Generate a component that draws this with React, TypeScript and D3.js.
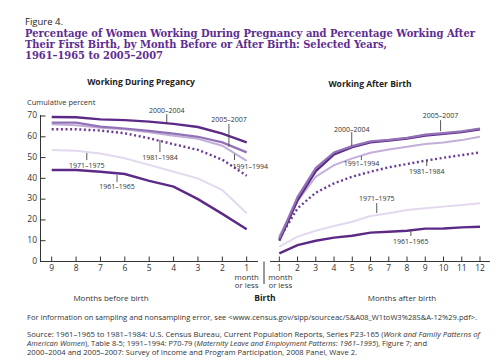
import React from "react";
import * as d3 from "d3";

// months on each panel
const monthsBefore = [9, 8, 7, 6, 5, 4, 3, 2, 1];
const monthsAfter = [1, 2, 3, 4, 5, 6, 7, 8, 9, 10, 11, 12];
const yTicks = [0, 10, 20, 30, 40, 50, 60, 70];

// cumulative percent working, months before birth (9 .. 1)
const before2000 = [69.5, 69.4, 68.4, 68, 67.3, 66.2, 64.7, 61.5, 57.3];
const before2005 = [66.8, 66.8, 64.9, 64, 62.8, 61.5, 60, 57.3, 52.5];
const before1991 = [66, 65.5, 64.4, 63.6, 62.2, 60.5, 59, 55.7, 48.4];
const before1981 = [63.6, 63.6, 63, 61.7, 59.3, 56.4, 53.7, 49, 41.3];
const before1971 = [53.7, 53.3, 52, 49.7, 46.5, 43.2, 40, 34.4, 23.2];
const before1961 = [44, 44, 43.2, 42.1, 38.8, 36, 30, 22.9, 15.5];

// cumulative percent working, months after birth (1 .. 12)
const after2005 = [11, 31, 45, 52.5, 55.5, 57.8, 58.5, 59.5, 61, 61.8, 62.6, 64];
const after2000 = [10, 29.5, 43.5, 51.5, 55, 57.3, 58.2, 59.2, 60.6, 61.4, 62.3, 63.6];
const after1991 = [12, 29, 40.8, 46.4, 49.6, 52.3, 53.9, 55.2, 56.5, 57.3, 58.4, 60];
const after1981 = [11, 25.6, 33.1, 37.6, 40.8, 43.2, 45.3, 46.9, 48.5, 49.9, 51.2, 52.5];
const after1971 = [7.1, 12, 14.8, 17.1, 19.1, 21.9, 23.2, 24.8, 25.6, 26.4, 27.2, 28];
const after1961 = [3.9, 7.9, 10, 11.5, 12.4, 13.9, 14.3, 14.8, 15.8, 15.9, 16.4, 16.7];

// label callouts: [label, month, text value, leader top, leader bottom, anchor]
type Note = [string, number, number, number, number, string];
const beforeNotes: Note[] = [
  ["2000–2004", 4.28, 72.2, 70.9, 66.1, "middle"],
  ["2005–2007", 1.73, 67.8, 66.1, 55.2, "middle"],
  ["1981–1984", 4.56, 49.6, 58.4, 52.6, "middle"],
  ["1991–1994", 1.5, 45.4, 51.7, 48.8, "start"],
  ["1971–1975", 7.56, 45.8, 52.2, 48.8, "middle"],
  ["1961–1965", 6.32, 35.7, 41.6, 38.2, "middle"],
];
const afterNotes: Note[] = [
  ["2000–2004", 4.97, 63.4, 62.3, 55.5, "middle"],
  ["2005–2007", 9.84, 69.8, 68, 62.7, "middle"],
  ["1991–1994", 5.5, 46.8, 50.7, 48.8, "middle"],
  ["1981–1984", 9.08, 42.9, 48.8, 45.9, "middle"],
  ["1971–1975", 6.34, 29.8, 28.1, 23.3, "middle"],
  ["1961–1965", 8.21, 9.3, 15.1, 12.3, "middle"],
];

const DARK = "#5c2a86";
const SANS = "'Open Sans', 'DejaVu Sans', sans-serif";

const styles: Record<string, { color: string; width: number; dash?: string }> = {
  "1971–1975": { color: "#e3d9ee", width: 2 },
  "1991–1994": { color: "#c3aed9", width: 2 },
  "2005–2007": { color: "#9272b6", width: 2.2 },
  "1981–1984": { color: "#6b3a98", width: 2.4, dash: "2,2.6" },
  "1961–1965": { color: DARK, width: 2.4 },
  "2000–2004": { color: DARK, width: 2.4 },
};

const beforeSeries: [string, number[]][] = [
  ["1971–1975", before1971],
  ["1991–1994", before1991],
  ["2005–2007", before2005],
  ["1981–1984", before1981],
  ["1961–1965", before1961],
  ["2000–2004", before2000],
];
const afterSeries: [string, number[]][] = [
  ["1971–1975", after1971],
  ["1991–1994", after1991],
  ["1981–1984", after1981],
  ["1961–1965", after1961],
  ["2000–2004", after2000],
  ["2005–2007", after2005],
];

export default function App() {
  const y = d3.scaleLinear().domain([0, 70]).range([261.5, 116]);
  const xL = d3.scaleLinear().domain([9, 1]).range([51.7, 246.7]);
  const xR = d3.scaleLinear().domain([1, 12]).range([279.3, 480]);

  const lineL = (vals: number[]) =>
    d3.line<number>().x((_, i) => xL(monthsBefore[i])).y((d) => y(d))(vals) || "";
  const lineR = (vals: number[]) =>
    d3.line<number>().x((_, i) => xR(monthsAfter[i])).y((d) => y(d))(vals) || "";

  const axisY = y(0);

  const notes = (list: Note[], x: d3.ScaleLinear<number, number>) =>
    list.map(([label, m, tv, l1, l2, anchor]) => (
      <g key={label}>
        <line x1={x(m)} x2={x(m)} y1={y(l1)} y2={y(l2)} stroke="#444" strokeWidth={0.9} />
        <text x={anchor === "start" ? x(m) - 2 : x(m)} y={y(tv)} textAnchor={anchor}
          fontSize={7} fill="#333" dominantBaseline="middle">
          {label}
        </text>
      </g>
    ));

  return (
    <svg
      width={500}
      height={363}
      style={{ position: "absolute", left: 0, top: 0, background: "#fff" }}
      fontFamily={SANS}
    >
      <text x={25} y={25} fontSize={9.5} fill="#222">Figure 4.</text>
      <g fontFamily="'DejaVu Serif Condensed', 'DejaVu Serif', serif" fontWeight="bold" fontSize={10.5} fill="#5e2d91">
        <text x={25} y={36.5} textLength={450} lengthAdjust="spacingAndGlyphs">
          Percentage of Women Working During Pregnancy and Percentage Working After
        </text>
        <text x={25} y={47.8} textLength={362} lengthAdjust="spacingAndGlyphs">
          Their First Birth, by Month Before or After Birth: Selected Years,
        </text>
        <text x={25} y={59} textLength={138} lengthAdjust="spacingAndGlyphs">
          1961–1965 to 2005–2007
        </text>
      </g>

      <text x={141} y={84.5} textAnchor="middle" fontSize={8.5} fontWeight="bold" fill="#222">
        Working During Pregancy
      </text>
      <text x={370} y={86.5} textAnchor="middle" fontSize={8.5} fontWeight="bold" fill="#222">
        Working After Birth
      </text>
      <text x={27} y={104.5} fontSize={7.5} fill="#333">Cumulative percent</text>

      {/* y axis */}
      <line x1={40.5} x2={40.5} y1={y(70) - 1} y2={axisY} stroke="#333" strokeWidth={1} />
      {yTicks.map((t) => (
        <g key={t}>
          {t > 0 && <line x1={40.5} x2={45.5} y1={y(t)} y2={y(t)} stroke="#333" strokeWidth={1} />}
          <text x={37} y={y(t)} textAnchor="end" dominantBaseline="middle" fontSize={8.5} fill="#333">
            {t}
          </text>
        </g>
      ))}

      {/* x axes */}
      <line x1={40} x2={258} y1={axisY} y2={axisY} stroke="#333" strokeWidth={1} />
      <line x1={270} x2={490} y1={axisY} y2={axisY} stroke="#333" strokeWidth={1} />
      <line x1={264} x2={264} y1={axisY} y2={284} stroke="#333" strokeWidth={1} />
      {monthsBefore.map((m) => (
        <g key={"b" + m}>
          <line x1={xL(m)} x2={xL(m)} y1={axisY} y2={axisY - 5} stroke="#333" strokeWidth={1} />
          <text x={xL(m)} y={270.5} textAnchor="middle" fontSize={8.5} fill="#333">{m}</text>
        </g>
      ))}
      {monthsAfter.map((m) => (
        <g key={"a" + m}>
          <line x1={xR(m)} x2={xR(m)} y1={axisY} y2={axisY - 5} stroke="#333" strokeWidth={1} />
          <text x={xR(m)} y={270.5} textAnchor="middle" fontSize={8.5} fill="#333">{m}</text>
        </g>
      ))}
      <g fontSize={7.8} fill="#333" textAnchor="middle">
        <text x={xL(1)} y={279.5}>month</text>
        <text x={xL(1)} y={288}>or less</text>
        <text x={xR(1) + 1} y={279.5}>month</text>
        <text x={xR(1) + 1} y={288}>or less</text>
      </g>
      <text x={111} y={301} textAnchor="middle" fontSize={8} fill="#333">Months before birth</text>
      <text x={265} y={301} textAnchor="middle" fontSize={8.5} fontWeight="bold" fill="#222">Birth</text>
      <text x={402} y={301} textAnchor="middle" fontSize={8} fill="#333">Months after birth</text>

      {/* series */}
      {beforeSeries.map(([k, v]) => (
        <path key={"L" + k} d={lineL(v)} fill="none" stroke={styles[k].color}
          strokeWidth={styles[k].width} strokeDasharray={styles[k].dash} />
      ))}
      {afterSeries.map(([k, v]) => (
        <path key={"R" + k} d={lineR(v)} fill="none" stroke={styles[k].color}
          strokeWidth={styles[k].width} strokeDasharray={styles[k].dash} />
      ))}

      {notes(beforeNotes, xL)}
      {notes(afterNotes, xR)}

      <g fontSize={6.6} fill="#333">
        <text x={27} y={319.5} textLength={450} lengthAdjust="spacingAndGlyphs">
          For information on sampling and nonsampling error, see &lt;www.census.gov/sipp/sourceac/S&amp;A08_W1toW3%28S&amp;A-12%29.pdf&gt;.
        </text>
        <text x={27} y={336.5} textLength={453} lengthAdjust="spacingAndGlyphs">
          Source: 1961–1965 to 1981–1984: U.S. Census Bureau, Current Population Reports, Series P23-165 (
          <tspan fontStyle="italic">Work and Family Patterns of</tspan>
        </text>
        <text x={27} y={345.5} textLength={400} lengthAdjust="spacingAndGlyphs">
          <tspan fontStyle="italic">American Women</tspan>), Table 8-5; 1991–1994: P70-79 (
          <tspan fontStyle="italic">Maternity Leave and Employment Patterns: 1961–1995</tspan>), Figure 7; and
        </text>
        <text x={27} y={354.5} textLength={330} lengthAdjust="spacingAndGlyphs">
          2000–2004 and 2005–2007: Survey of Income and Program Participation, 2008 Panel, Wave 2.
        </text>
      </g>
    </svg>
  );
}
